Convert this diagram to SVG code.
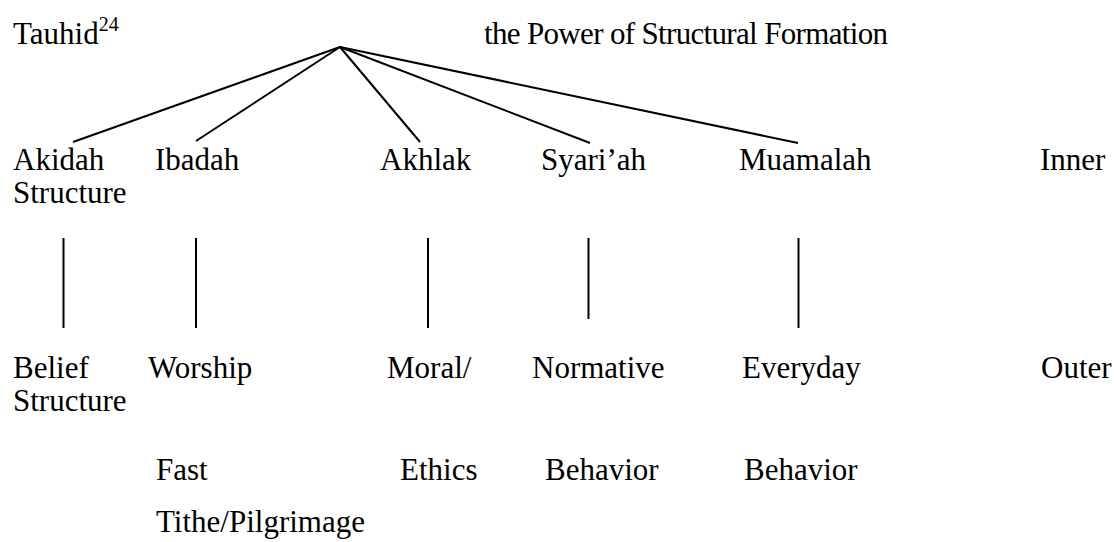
<svg xmlns="http://www.w3.org/2000/svg" width="1114" height="542" viewBox="0 0 1114 542">
<style>
text{font-family:"Liberation Serif","Times New Roman",serif;font-size:31px;fill:#000}
.sup{font-size:20px}
line{stroke:#000;stroke-width:2}
</style>
<rect width="1114" height="542" fill="#fff"/>
<g id="root"><text x="13" y="44">Tauhid<tspan class="sup" dy="-13">24</tspan></text></g>
<g id="title"><text x="484" y="44" textLength="404" lengthAdjust="spacing">the Power of Structural Formation</text></g>
<g id="akidah"><text x="13" y="170">Akidah</text><text x="13" y="203">Structure</text></g>
<g id="ibadah"><text x="155" y="170">Ibadah</text></g>
<g id="akhlak"><text x="380" y="170">Akhlak</text></g>
<g id="syariah"><text x="541" y="170">Syari’ah</text></g>
<g id="muamalah"><text x="739" y="170">Muamalah</text></g>
<g id="inner"><text x="1040" y="170">Inner</text></g>
<g id="belief"><text x="13" y="378">Belief</text><text x="13" y="411">Structure</text></g>
<g id="worship"><text x="148" y="378">Worship</text><text x="156" y="480">Fast</text><text x="156" y="532">Tithe/Pilgrimage</text></g>
<g id="moral"><text x="387" y="378">Moral/</text><text x="400" y="480">Ethics</text></g>
<g id="normative"><text x="532" y="378">Normative</text><text x="545" y="480">Behavior</text></g>
<g id="everyday"><text x="742" y="378">Everyday</text><text x="744" y="480">Behavior</text></g>
<g id="outer"><text x="1041" y="378">Outer</text></g>
<g id="connectors">
<line x1="340" y1="47" x2="73" y2="142"/>
<line x1="340" y1="47" x2="196" y2="141"/>
<line x1="340" y1="47" x2="420" y2="142"/>
<line x1="340" y1="47" x2="590" y2="143"/>
<line x1="340" y1="47" x2="798" y2="143"/>
<line x1="63.5" y1="238" x2="63.5" y2="328"/>
<line x1="196" y1="238" x2="196" y2="328"/>
<line x1="428" y1="238" x2="428" y2="328"/>
<line x1="588.5" y1="238" x2="588.5" y2="319"/>
<line x1="798.5" y1="238" x2="798.5" y2="328"/>
</g>
</svg>
